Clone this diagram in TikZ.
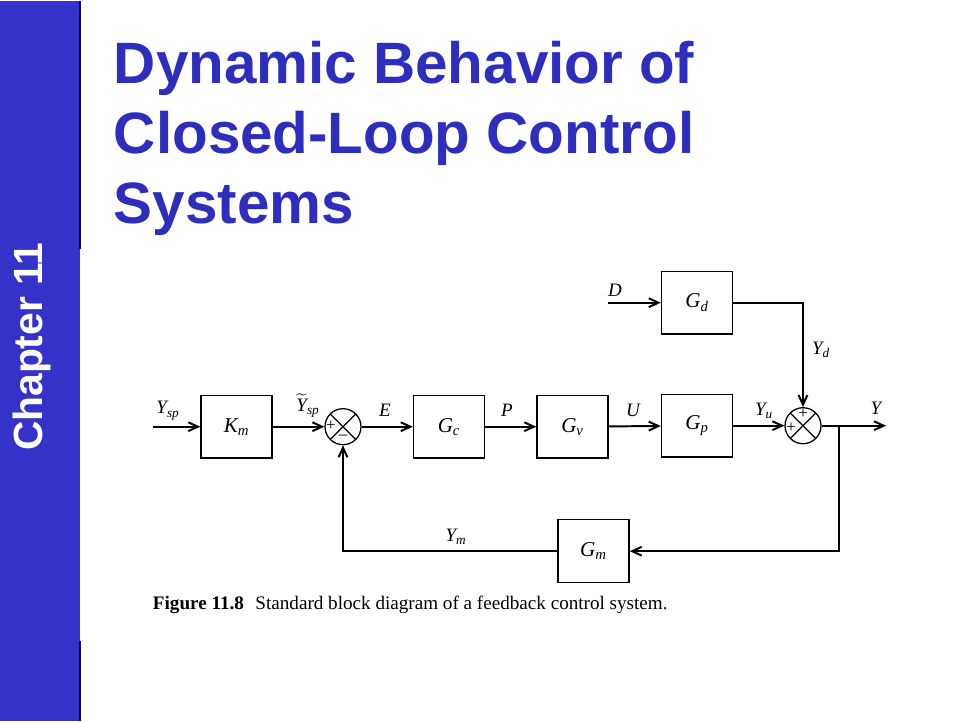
\documentclass[tikz,border=0pt]{standalone}
\usepackage{amsmath,amssymb}
\usepackage{fontspec}
\setmainfont{Liberation Serif}
\newfontfamily\slidefont{Liberation Sans}
\usetikzlibrary{arrows.meta}
\definecolor{slideblue}{RGB}{52,50,200}
\definecolor{titleblue}{RGB}{45,45,190}
\definecolor{edgenavy}{RGB}{10,10,70}
\newcommand{\sig}[2]{\mathit{#1}_{\mathit{#2}}}

\begin{document}
\begin{tikzpicture}[x=0.025cm, y=-0.025cm, line width=1.4pt,
	>={Straight Barb[length=2.4mm, width=2.2mm]},
	every node/.style={font=\fontsize{13.5}{15}\selectfont, inner sep=1pt},
	block/.style={draw, line width=0.9pt, minimum width=1.78cm, minimum height=1.57cm, inner sep=0pt, font=\fontsize{15}{17}\selectfont},
	sumjunc/.style={draw, circle, line width=0.9pt, minimum size=0.9cm, inner sep=0pt,
		path picture={\draw[line width=0.9pt] (path picture bounding box.north west) -- (path picture bounding box.south east)
			(path picture bounding box.north east) -- (path picture bounding box.south west);}},
	sign/.style={inner sep=0pt, font=\fontsize{12}{13}\selectfont}]
	\fill[white] (0,0) rectangle (960,720);
	\fill[slideblue] (0,0) rectangle (80,720);
	\draw[edgenavy, line width=1pt] (80,0) -- (80,248) (80,640) -- (80,720);
	\node[white, rotate=90, font=\slidefont\bfseries\fontsize{29}{32}\selectfont] (chap) at (32,346) {Chapter 11};
	\node[titleblue, anchor=base west, inner sep=0pt, font=\slidefont\bfseries\fontsize{41.5}{50}\selectfont] (title1) at (113,83) {Dynamic Behavior of};
	\node[titleblue, anchor=base west, inner sep=0pt, font=\slidefont\bfseries\fontsize{41.5}{50}\selectfont] (title2) at (113,153) {Closed-Loop Control};
	\node[titleblue, anchor=base west, inner sep=0pt, font=\slidefont\bfseries\fontsize{41.5}{50}\selectfont] (title3) at (113,223) {Systems};
	\node[block] (km) at (236.5,426) {$\sig{K}{m}$};
	\node[sumjunc] (sum1) at (343,426) {};
	\node[block] (gc) at (449,426) {$\sig{G}{c}$};
	\node[block] (gv) at (572.5,426) {$\sig{G}{v}$};
	\node[block] (gp) at (697,425) {$\sig{G}{p}$};
	\node[block] (gd) at (697,302) {$\sig{G}{d}$};
	\node[sumjunc] (sum2) at (803,425) {};
	\node[block] (gm) at (593.5,550.5) {$\sig{G}{m}$};
	\node[sign] (s1a) at (331,425) {+};
	\node[sign] (s1b) at (343,437) {–};
	\node[sign] (s2a) at (803,413) {+};
	\node[sign] (s2b) at (791,427) {+};
	\coordinate (ysp) at (153,426);
	\coordinate (din) at (608,302);
	\coordinate (yout) at (886,425);
	\coordinate (branch) at (839,425);
	\draw[->] (ysp) -- (km);
	\draw[->] (km) -- (sum1);
	\draw[->] (sum1) -- (gc);
	\draw[->] (gc) -- (gv);
	\draw[->] (gv) -- (gp);
	\draw[->] (gp) -- (sum2);
	\draw[->] (din) -- (gd);
	\draw[->] (gd.east) -| (sum2.north);
	\draw[->] (sum2) -- (yout);
	\draw[->] (branch) |- (gm.east);
	\draw[->] (gm.west) -| (sum1.south);
	\node (lysp) at (168,410) {$\sig{Y}{sp}$};
	\node (lytl) at (308,405) {$\widetilde{\mathit{Y}}_{\mathit{sp}}$};
	\node (le) at (385,410) {$\mathit{E}$};
	\node (lp) at (507,410) {$\mathit{P}$};
	\node (lu) at (633,410) {$\mathit{U}$};
	\node (lyu) at (764,410) {$\sig{Y}{u}$};
	\node (ly) at (876,408) {$\mathit{Y}$};
	\node (ld) at (615,290) {$\mathit{D}$};
	\node (lyd) at (821,349) {$\sig{Y}{d}$};
	\node (lym) at (456,536) {$\sig{Y}{m}$};
	\node[anchor=base west, inner sep=0pt, font=\fontsize{13.6}{15}\selectfont] (cap) at (152,609) {\textbf{Figure 11.8}\hspace{0.6em}Standard block diagram of a feedback control system.};
\end{tikzpicture}
\end{document}
